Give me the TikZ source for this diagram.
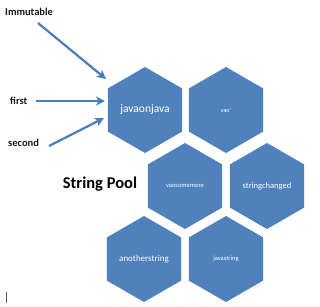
\documentclass[tikz,border=0pt]{standalone}
\usepackage{fontspec}
\setmainfont{Carlito}
\usetikzlibrary{shapes.geometric,arrows.meta}
\definecolor{hexblue}{HTML}{4F81BD}
\definecolor{arrblue}{HTML}{4A7EBB}
\definecolor{labtxt}{HTML}{1A1A1A}
\begin{document}
\begin{tikzpicture}[x=1pt,y=-1pt,
  hex/.style={regular polygon, regular polygon sides=6, shape border rotate=30,
    minimum size=86pt, inner sep=0pt, fill=hexblue, draw=none, text=white},
  lab/.style={font=\fontsize{10.5}{11}\selectfont\bfseries, text=labtxt, inner sep=0pt},
  arr/.style={draw=arrblue, line width=2.2pt, -{Stealth[length=9pt,width=9pt,inset=2.5pt]}}]
\useasboundingbox (0,0) rectangle (320,306);
% hexagons
\node[hex, font=\fontsize{11.5}{12}\selectfont] (h1) at (145,110) {javaonjava};
\node[hex, font=\fontsize{6}{7}\selectfont] (h2) at (226,110) {vao'};
\node[hex, font=\fontsize{6.5}{7}\selectfont] (h3) at (185,186) {vaosomemore};
\node[hex, font=\fontsize{8.5}{9}\selectfont] (h4) at (267,186) {stringchanged};
\node[hex, font=\fontsize{9}{10}\selectfont] (h5) at (144,259) {anotherstring};
\node[hex, font=\fontsize{6.5}{7}\selectfont] (h6) at (226,259) {javastring};
% labels
\node[lab, anchor=west] (imm) at (5,12) {Immutable};
\node[lab, anchor=west] (fst) at (10,101) {first};
\node[lab, anchor=west] (snd) at (8,143) {second};
\node[font=\fontsize{16.5}{18}\selectfont\bfseries, text=black, inner sep=0pt] (pool) at (100,184) {String Pool};
% arrow ends
\coordinate (immS) at (38,23);
\coordinate (immE) at (106,79);
\coordinate (fstS) at (36,101);
\coordinate (fstE) at (105,101);
\coordinate (sndS) at (49,146);
\coordinate (sndE) at (104,118);
\draw[arr] (immS) -- (immE);
\draw[arr] (fstS) -- (fstE);
\draw[arr] (sndS) -- (sndE);
% cursor
\coordinate (c1) at (6,292);
\coordinate (c2) at (6,303);
\draw[gray!70!black, line width=0.8pt] (c1) -- (c2);
\end{tikzpicture}
\end{document}
